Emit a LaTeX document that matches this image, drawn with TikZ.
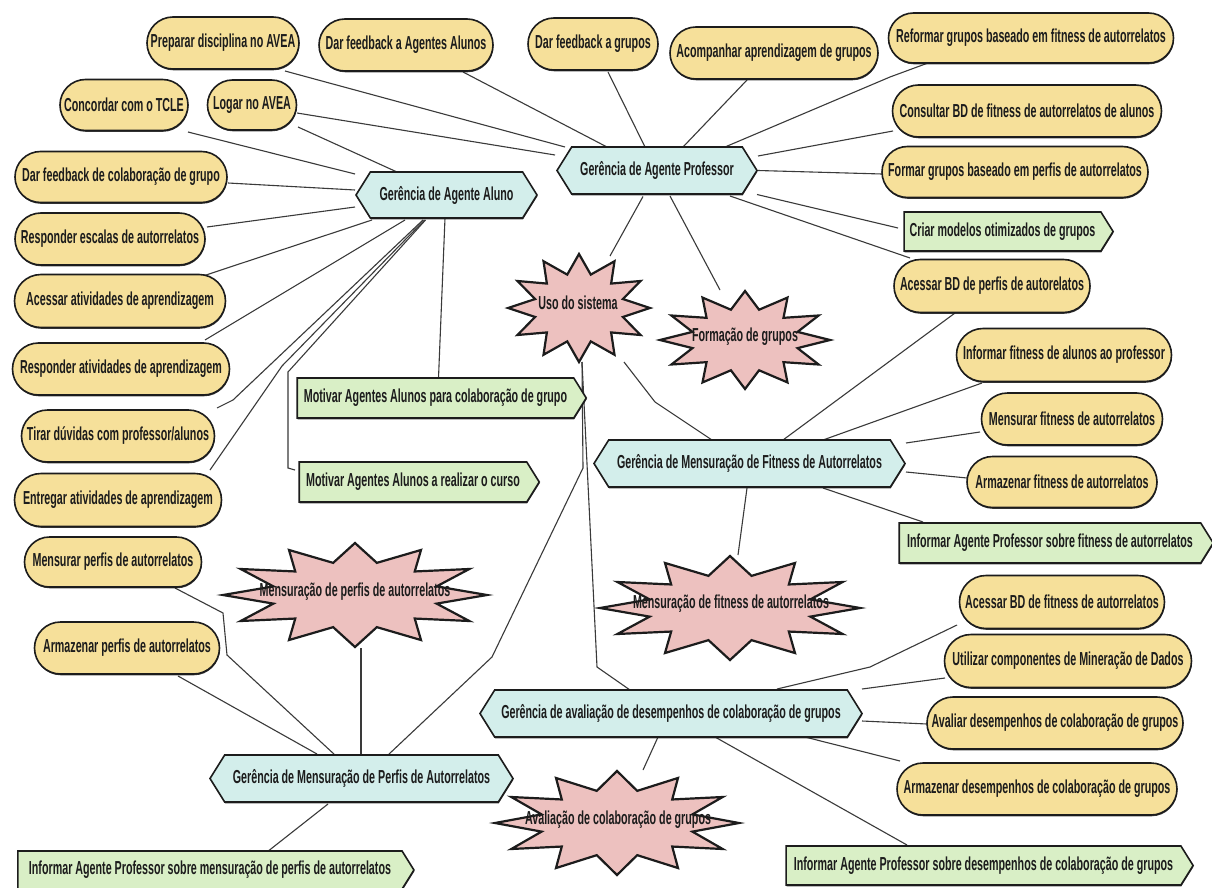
\documentclass[tikz,border=0pt]{standalone}
\usepackage{fontspec}
\setmainfont{Liberation Sans}[FakeStretch=0.57]
\usetikzlibrary{shapes.misc,shapes.symbols,shadows,calc}
\pgfdeclarelayer{links}
\pgfsetlayers{links,main}

\definecolor{pillfill}{HTML}{F6E09A}
\definecolor{hexfill}{HTML}{D3EEEB}
\definecolor{tagfill}{HTML}{D9EFC6}
\definecolor{burstfill}{HTML}{EDC1BF}
\definecolor{ink}{HTML}{1C1C1C}
\definecolor{wire}{HTML}{3A3A3A}

\tikzset{
  txt/.style={font=\fontsize{18.8}{21}\selectfont\bfseries, text=ink},
  shadowed/.style={drop shadow={shadow xshift=0.4pt,shadow yshift=-1.3pt,fill=ink,opacity=0.85}},
  pill/.style={txt, rounded rectangle, draw=ink, line width=1.6pt, fill=pillfill, shadowed, inner sep=0pt},
  hexbox/.style={txt, signal, signal to=west and east, signal pointer angle=116, draw=ink, line width=1.6pt, fill=hexfill, shadowed, inner sep=0pt},
  tagbox/.style={txt, signal, signal to=east, signal pointer angle=116, draw=ink, line width=1.6pt, fill=tagfill, shadowed, inner sep=0pt},
  burst/.style={draw=ink, line width=2.2pt, fill=burstfill, line join=miter},
  bursttext/.style={txt, inner sep=0pt},
  link/.style={draw=wire, line width=1.1pt},
}

% twelve-pointed burst: centre, outer x radius, outer y radius
\newcommand\burstshape[3]{%
  \pgfmathsetmacro\bix{0.64*#2}\pgfmathsetmacro\biy{0.64*#3}%
  \begin{scope}[shift={(#1)}]
    \draw[burst] (0:{#2} and {#3})
      \foreach \a in {0,30,...,330}{ -- (\a+15:{\bix} and {\biy}) -- (\a+30:{#2} and {#3})} -- cycle;
  \end{scope}}

\begin{document}
\begin{tikzpicture}[x=1pt,y=-1pt]
\useasboundingbox (0,0) rectangle (1212,888);

% ---- use-case pills ----
\node[pill, minimum width=152, minimum height=52] (prep) at (223,43) {Preparar disciplina no AVEA};
\node[pill, minimum width=174, minimum height=52] (fbal) at (406,45) {Dar feedback a Agentes Alunos};
\node[pill, minimum width=130, minimum height=52] (fbgr) at (593,44) {Dar feedback a grupos};
\node[pill, minimum width=208, minimum height=52] (acomp) at (774,53) {Acompanhar aprendizagem de grupos};
\node[pill, minimum width=285, minimum height=50] (reform) at (1031,38) {Reformar grupos baseado em fitness de autorrelatos};
\node[pill, minimum width=269, minimum height=52] (consult) at (1027,111) {Consultar BD de fitness de autorrelatos de alunos};
\node[pill, minimum width=266, minimum height=51] (formar) at (1015,172) {Formar grupos baseado em perfis de autorrelatos};
\node[pill, minimum width=196, minimum height=53] (acessperf) at (992,286) {Acessar BD de perfis de autorelatos};
\node[pill, minimum width=128, minimum height=51] (tcle) at (124,105) {Concordar com o TCLE};
\node[pill, minimum width=89, minimum height=50] (logar) at (252,105) {Logar no AVEA};
\node[pill, minimum width=212, minimum height=51] (fbcolab) at (121,177) {Dar feedback de colaboração de grupo};
\node[pill, minimum width=190, minimum height=52] (respesc) at (110,239) {Responder escalas de autorrelatos};
\node[pill, minimum width=211, minimum height=53] (acessativ) at (120,301) {Acessar atividades de aprendizagem};
\node[pill, minimum width=217, minimum height=52] (respativ) at (121,369) {Responder atividades de aprendizagem};
\node[pill, minimum width=193, minimum height=52] (tirar) at (118,436) {Tirar dúvidas com professor/alunos};
\node[pill, minimum width=207, minimum height=53] (entregar) at (118,500) {Entregar atividades de aprendizagem};
\node[pill, minimum width=177, minimum height=50] (mensperf) at (113,562) {Mensurar perfis de autorrelatos};
\node[pill, minimum width=185, minimum height=52] (armperf) at (127,648) {Armazenar perfis de autorrelatos};
\node[pill, minimum width=215, minimum height=53] (inffit) at (1064,355) {Informar fitness de alunos ao professor};
\node[pill, minimum width=181, minimum height=52] (mensfit) at (1072,419) {Mensurar fitness de autorrelatos};
\node[pill, minimum width=190, minimum height=51] (armfit) at (1062,482) {Armazenar fitness de autorrelatos};
\node[pill, minimum width=205, minimum height=53] (acessfit) at (1062,602) {Acessar BD de fitness de autorrelatos};
\node[pill, minimum width=247, minimum height=53] (util) at (1068,661) {Utilizar componentes de Mineração de Dados};
\node[pill, minimum width=256, minimum height=52] (avaliar) at (1055,723) {Avaliar desempenhos de colaboração de grupos};
\node[pill, minimum width=280, minimum height=52] (armdes) at (1037,789) {Armazenar desempenhos de colaboração de grupos};

% ---- goal tags ----
\node[tagbox, minimum width=209, minimum height=39] (criar) at (1002.5,231.5) {Criar modelos otimizados de grupos};
\node[tagbox, minimum width=314, minimum height=40] (inffitAP) at (1050,543) {Informar Agente Professor sobre fitness de autorrelatos};
\node[tagbox, minimum width=407, minimum height=39] (infdes) at (983.5,865.5) {Informar Agente Professor sobre desempenhos de colaboração de grupos};
\node[tagbox, minimum width=289, minimum height=40] (motcolab) at (435.5,398) {Motivar Agentes Alunos para colaboração de grupo};
\node[tagbox, minimum width=240, minimum height=40] (motcurso) at (413,482) {Motivar Agentes Alunos a realizar o curso};
\node[tagbox, minimum width=396, minimum height=38] (infmens) at (210,870) {Informar Agente Professor sobre mensuração de perfis de autorrelatos};

% ---- managers ----
\node[hexbox, minimum width=181, minimum height=46] (aluno) at (446.5,195) {Gerência de Agente Aluno};
\node[hexbox, minimum width=200, minimum height=47] (prof) at (657,170.5) {Gerência de Agente Professor};
\node[hexbox, minimum width=311, minimum height=47] (fitness) at (749.5,463.5) {Gerência de Mensuração de Fitness de Autorrelatos};
\node[hexbox, minimum width=382, minimum height=47] (desemp) at (671,713.5) {Gerência de avaliação de desempenhos de colaboração de grupos};
\node[hexbox, minimum width=303, minimum height=47] (perfis) at (361.5,778.5) {Gerência de Mensuração de Perfis de Autorrelatos};

% ---- scenario bursts ----
\burstshape{579,308}{71}{54}
\node[bursttext] (uso) at (578,303) {Uso do sistema};
\burstshape{745,340}{85}{49}
\node[bursttext] (formacao) at (745,337) {Formação de grupos};
\burstshape{355,595}{132}{52}
\node[bursttext] (msp) at (355,592) {Mensuração de perfis de autorrelatos};
\burstshape{730,608}{130}{52}
\node[bursttext] (mf) at (731,604) {Mensuração de fitness de autorrelatos};
\burstshape{617,823}{122}{52}
\node[bursttext] (av) at (618,820) {Avaliação de colaboração de grupos};

% ---- connectors (drawn beneath the shapes) ----
\begin{pgfonlayer}{links}
\fill[white] (0,0) rectangle (1212,888);
% teacher agent
\draw[link] ($(prep)+(62,28)$) -- ($(prof)+(-92,-23.5)$);
\draw[link] ($(logar)+(45,8)$) -- ($(prof)+(-102,-15.5)$);
\draw[link] ($(fbal)+(57,27)$) -- ($(prof)+(-50,-23.5)$);
\draw[link] ($(fbgr)+(15,28)$) -- ($(prof)+(-12,-23.5)$);
\draw[link] ($(acomp)+(-27,27)$) -- ($(prof)+(26,-23.5)$);
\draw[link] ($(reform)+(-103,25)$) -- ($(reform)+(-141,39)$) -- ($(prof)+(68,-23.5)$);
\draw[link] ($(consult)+(-134,20)$) -- ($(prof)+(101,-14.5)$);
\draw[link] ($(formar)+(-133,2)$) -- ($(prof)+(101,0)$);
\draw[link] ($(criar)+(-104.5,-3.5)$) -- ($(prof)+(100,24)$);
\draw[link] ($(acessperf)+(-82,-28)$) -- ($(prof)+(73,25.5)$);
\draw[link] ($(prof)+(-14,26)$) -- ($(uso)+(32,-47)$);
\draw[link] ($(prof)+(13,25.5)$) -- ($(formacao)+(-25,-47)$);
% student agent
\draw[link] ($(logar)+(46,22)$) -- ($(aluno)+(-49.5,-23)$);
\draw[link] ($(tcle)+(64,27)$) -- ($(aluno)+(-91.5,-21)$);
\draw[link] ($(fbcolab)+(107,6)$) -- ($(aluno)+(-91.5,-5)$);
\draw[link] ($(respesc)+(97,-12)$) -- ($(aluno)+(-91.5,12)$);
\draw[link] ($(acessativ)+(83,-25)$) -- ($(aluno)+(-74.5,25)$);
\draw[link] ($(respativ)+(84,-29)$) -- ($(aluno)+(-41.5,25)$);
\draw[link] ($(tirar)+(99,-28)$) -- ($(tirar)+(115,-36)$) -- ($(aluno)+(-23.5,25)$);
\draw[link] ($(entregar)+(92,-30)$) -- ($(aluno)+(-164.5,171)$) -- ($(aluno)+(-22,25)$);
\draw[link] ($(motcurso)+(-118,-12)$) -- ($(motcurso)+(-125,-14)$) -- ($(motcurso)+(-125,-110)$) -- ($(aluno)+(-21,25)$);
\draw[link] ($(motcolab)+(3,-20)$) -- ($(aluno)+(-1.5,23)$);
% system use
\draw[link] ($(uso)+(46,59)$) -- ($(fitness)+(-94.5,-61.5)$) -- ($(fitness)+(-37.5,-23.5)$);
\draw[link] ($(uso)+(4,59)$) -- ($(desemp)+(-74,-46.5)$) -- ($(desemp)+(-41,-23.5)$);
\draw[link] ($(uso)+(4,59)$) -- ($(uso)+(5,165)$) -- ($(perfis)+(130.5,-121.5)$) -- ($(perfis)+(26.5,-23.5)$);
% profile measurement
\draw[link] ($(msp)+(6,56)$) -- ($(perfis)+(-0.5,-23.5)$);
\draw[link] ($(mensperf)+(62,26)$) -- ($(mensperf)+(110,51)$) -- ($(mensperf)+(114,93)$) -- ($(perfis)+(-26.5,-23.5)$);
\draw[link] ($(armperf)+(51,28)$) -- ($(perfis)+(-44.5,-24.5)$);
\draw[link] ($(perfis)+(-33.5,25.5)$) -- ($(infmens)+(57,-18)$);
% fitness measurement
\draw[link] ($(acessperf)+(-37,27)$) -- ($(fitness)+(33.5,-23.5)$);
\draw[link] ($(inffit)+(-82,28)$) -- ($(fitness)+(73.5,-23.5)$);
\draw[link] ($(mensfit)+(-92,13)$) -- ($(fitness)+(156.5,-20.5)$);
\draw[link] ($(armfit)+(-95,-4)$) -- ($(fitness)+(156.5,8.5)$);
\draw[link] ($(inffitAP)+(-127,-21)$) -- ($(fitness)+(73.5,24.5)$);
\draw[link] ($(fitness)+(-2.5,24.5)$) -- ($(mf)+(7,-49)$);
% collaboration assessment
\draw[link] ($(acessfit)+(-105,23)$) -- ($(acessfit)+(-192,65)$) -- ($(desemp)+(106,-24.5)$);
\draw[link] ($(util)+(-123,17)$) -- ($(desemp)+(191,-24.5)$);
\draw[link] ($(avaliar)+(-128,1)$) -- ($(desemp)+(191,7.5)$);
\draw[link] ($(armdes)+(-137,-28)$) -- ($(desemp)+(124,21)$);
\draw[link] ($(desemp)+(44,23.5)$) -- ($(infdes)+(-76.5,-20.5)$);
\draw[link] ($(desemp)+(-13,23.5)$) -- ($(av)+(25,-50)$);
\end{pgfonlayer}
\end{tikzpicture}
\end{document}
